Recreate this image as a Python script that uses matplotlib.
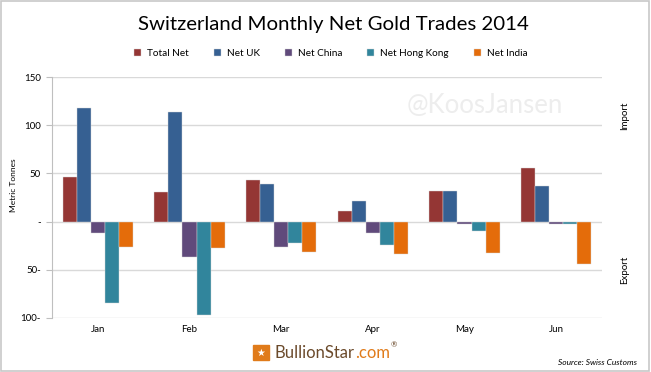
import matplotlib.pyplot as plt
import numpy as np
from matplotlib.patches import Rectangle
from matplotlib.ticker import FuncFormatter

plt.rcParams['font.family'] = ['Lato', 'DejaVu Sans']

months = ['Jan', 'Feb', 'Mar', 'Apr', 'May', 'Jun']
series_names = ['Total Net', 'Net UK', 'Net China', 'Net Hong Kong', 'Net India']
total_net = [46, 31, 43, 11, 32, 55.5]
net_uk = [118, 114, 39, 21.7, 31.4, 37]
net_china = [-11.7, -36.6, -26, -11.7, -2, -3]
net_hong_kong = [-84, -97, -22, -24.5, -10, -2.7]
net_india = [-26.5, -27, -32, -33.5, -32.5, -44]
colors = ['#943634', '#366092', '#604A7B', '#31859C', '#E46C0A']

fig = plt.figure(figsize=(6.51, 3.72), dpi=100)
ax = fig.add_axes([0.0799, 0.1452, 0.8448, 0.6478])

x = np.arange(len(months))
w = 0.153
all_series = [total_net, net_uk, net_china, net_hong_kong, net_india]
for i, (vals, name, c) in enumerate(zip(all_series, series_names, colors)):
    ax.bar(x + (i - 2) * w, vals, width=w, color=c, label=name,
           edgecolor='#d8d8d8', linewidth=0.3, zorder=3)

ax.set_xlim(-0.5, 5.5)
ax.set_ylim(-100, 150)
ax.set_yticks([-100, -50, 0, 50, 100, 150])


def fmt(v, pos):
    if v == 0:
        return '-'
    if v < 0:
        return f'{int(-v)}-'
    return f'{int(v)}'


ax.yaxis.set_major_formatter(FuncFormatter(fmt))
ax.set_xticks(x)
ax.set_xticklabels(months)
ax.tick_params(axis='x', length=0, labelsize=7, pad=5)
ax.tick_params(axis='y', length=4, color='#bfbfbf', labelsize=7, pad=4)
ax.grid(axis='y', color='#d9d9d9', linewidth=1, zorder=0)
for s in ['top', 'right', 'bottom']:
    ax.spines[s].set_visible(False)
ax.spines['left'].set_color('#bfbfbf')
ax.set_ylabel('Metric Tonnes', fontsize=6)
ax.yaxis.set_label_coords(-0.064, 0.55)

fig.text(0.512, 0.933, 'Switzerland Monthly Net Gold Trades 2014',
         ha='center', va='center', fontsize=14.7)
fig.legend(loc='center', bbox_to_anchor=(0.508, 0.857), ncol=5, frameon=False,
           fontsize=7.2, handlelength=0.7, handleheight=0.7, handletextpad=0.6,
           columnspacing=2.5)

ax.text(0.787, 0.88, '@KoosJansen', transform=ax.transAxes, ha='center',
        va='center', fontsize=18.5, color='#ededed', zorder=1)

fig.text(0.960, 0.69, 'Import', rotation=90, ha='center', va='center', fontsize=7)
fig.text(0.960, 0.274, 'Export', rotation=90, ha='center', va='center', fontsize=7)

# logo
fig.patches.append(Rectangle((0.389, 0.032), 0.024, 0.04, transform=fig.transFigure,
                             color='#E07B1A', figure=fig))
fig.text(0.401, 0.052, '\u2605', ha='center', va='center', fontsize=7,
         color='white', family='DejaVu Sans')
t1 = fig.text(0.422, 0.052, 'BullionStar', ha='left', va='center',
              fontsize=12, color='#6b4a2b')
fig.canvas.draw()
bb = t1.get_window_extent()
x2 = bb.x1 / fig.bbox.width
t2 = fig.text(x2, 0.052, '.com', ha='left', va='center', fontsize=12, color='#E07B1A')
bb2 = t2.get_window_extent()
fig.text(bb2.x1 / fig.bbox.width + 0.001, 0.072, '\u00ae', ha='left', va='center',
         fontsize=5.5, color='#6b4a2b')

fig.text(0.978, 0.025, 'Source: Swiss Customs', ha='right', va='center',
         fontsize=6, style='italic')

fig.patches.append(Rectangle((0.001, 0.002), 0.996, 0.995, transform=fig.transFigure,
                             fill=False, edgecolor='#c8c8c8', linewidth=1.2, figure=fig))

fig.savefig('out.png', dpi=100)
